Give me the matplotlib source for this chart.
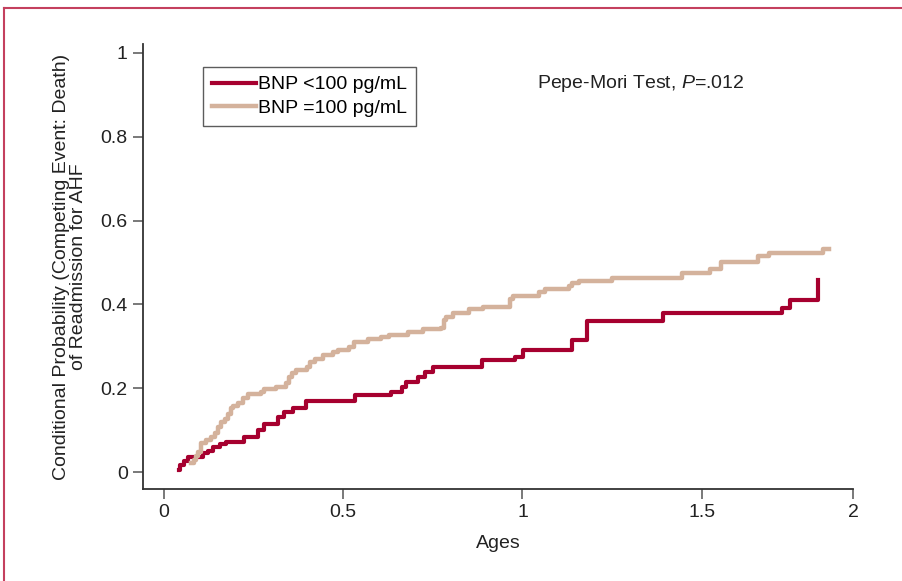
import matplotlib
matplotlib.use("Agg")
import matplotlib.pyplot as plt
from matplotlib.lines import Line2D

# Cumulative incidence (step points)
low_x = [0.041, 0.045, 0.057, 0.066, 0.108, 0.122, 0.136, 0.155, 0.173, 0.222,
         0.262, 0.280, 0.318, 0.336, 0.359, 0.395, 0.533, 0.634, 0.663, 0.676,
         0.708, 0.727, 0.750, 0.886, 0.978, 1.001, 1.138, 1.179, 1.393, 1.725,
         1.745, 1.824, 1.824]
low_y = [0.005, 0.017, 0.027, 0.037, 0.045, 0.051, 0.060, 0.067, 0.073, 0.084,
         0.100, 0.116, 0.132, 0.144, 0.153, 0.169, 0.184, 0.192, 0.204, 0.214,
         0.228, 0.239, 0.251, 0.268, 0.275, 0.291, 0.315, 0.361, 0.380, 0.391,
         0.410, 0.410, 0.458]

high_x = [0.076, 0.085, 0.090, 0.094, 0.104, 0.118, 0.132, 0.141, 0.150, 0.160,
          0.169, 0.178, 0.187, 0.192, 0.206, 0.220, 0.234, 0.271, 0.280, 0.313,
          0.341, 0.350, 0.358, 0.369, 0.398, 0.408, 0.420, 0.443, 0.471, 0.485,
          0.515, 0.531, 0.568, 0.606, 0.629, 0.680, 0.722, 0.773, 0.780, 0.787,
          0.806, 0.852, 0.889, 0.964, 0.973, 1.046, 1.064, 1.129, 1.139, 1.157,
          1.250, 1.445, 1.522, 1.554, 1.656, 1.687, 1.838, 1.856]
high_y = [0.022, 0.029, 0.038, 0.049, 0.070, 0.078, 0.084, 0.094, 0.108, 0.120,
          0.128, 0.140, 0.152, 0.158, 0.164, 0.176, 0.186, 0.192, 0.198, 0.204,
          0.212, 0.228, 0.237, 0.243, 0.251, 0.262, 0.270, 0.279, 0.287, 0.291,
          0.298, 0.311, 0.317, 0.323, 0.327, 0.335, 0.341, 0.345, 0.363, 0.371,
          0.380, 0.388, 0.393, 0.412, 0.420, 0.430, 0.437, 0.444, 0.452, 0.457,
          0.464, 0.476, 0.484, 0.501, 0.516, 0.522, 0.532, 0.532]

x_ticks = [0, 0.5, 1, 1.5, 1.922]
x_ticklabels = ['0', '0.5', '1', '1.5', '2']
y_ticks = [0, 0.2, 0.4, 0.6, 0.8, 1]
y_ticklabels = ['0', '0.2', '0.4', '0.6', '0.8', '1']

plt.rcParams['font.family'] = ['Liberation Sans', 'DejaVu Sans']
plt.rcParams['mathtext.fontset'] = 'custom'
plt.rcParams['mathtext.rm'] = 'Liberation Sans'
plt.rcParams['mathtext.it'] = 'Liberation Sans:italic'

red = '#a6002f'
tan = '#d4b29c'
axis_col = '#333333'

fig = plt.figure(figsize=(9.02, 5.81), dpi=100)
ax = fig.add_axes([0.1585, 0.1583, 0.7872, 0.766])

ax.step(low_x, low_y, where='post', color=red, lw=3.0, label='BNP <100 pg/mL')
ax.step(high_x, high_y, where='post', color=tan, lw=3.2, label='BNP =100 pg/mL')

ax.set_xlim(-0.0586, 1.922)
ax.set_ylim(-0.04, 1.021)
ax.set_xticks(x_ticks)
ax.set_xticklabels(x_ticklabels)
ax.set_yticks(y_ticks)
ax.set_yticklabels(y_ticklabels)

for s in ['top', 'right']:
    ax.spines[s].set_visible(False)
for s in ['left', 'bottom']:
    ax.spines[s].set_color(axis_col)
    ax.spines[s].set_linewidth(1.3)
ax.tick_params(direction='out', length=7, width=1.1, color='#555555',
               labelsize=14, labelcolor='#222222', pad=4)

ax.set_xlabel('Ages', fontsize=14, color='#222222', labelpad=10)
ax.set_ylabel('Conditional Probability (Competing Event: Death)\nof Readmission for AHF',
              fontsize=14, color='#222222', labelpad=10, linespacing=1.0)

leg = ax.legend(loc='upper left', bbox_to_anchor=(0.0845, 0.948), fontsize=14,
                frameon=True, fancybox=False, handlelength=2.3, handletextpad=0.1,
                borderpad=0.45, labelspacing=0.3, borderaxespad=0)
leg.get_frame().set_edgecolor('#333333')
leg.get_frame().set_linewidth(1.0)

ax.text(0.701, 0.912, 'Pepe-Mori Test, $P$=.012', transform=ax.transAxes,
        ha='center', va='center', fontsize=14, color='#222222')

# figure border (top and left)
frame_col = '#c4405e'
fig.add_artist(Line2D([0.004, 1.0], [0.986, 0.986], transform=fig.transFigure,
                      color=frame_col, lw=1.5))
fig.add_artist(Line2D([0.004, 0.004], [0.0, 0.986], transform=fig.transFigure,
                      color=frame_col, lw=1.5))

fig.savefig('out.png', dpi=100)
